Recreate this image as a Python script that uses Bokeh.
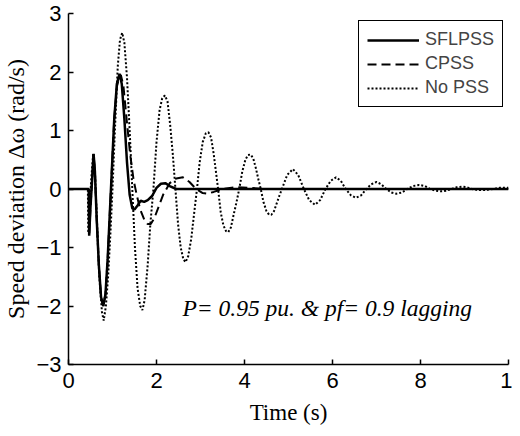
from bokeh.plotting import figure
from bokeh.models import Range1d, FixedTicker, Legend, LegendItem, Label
from bokeh.embed import file_html
from bokeh.resources import INLINE

# ---- data ----
t_sfl = [0, 0.46, 0.47, 0.5, 0.54, 0.57, 0.6, 0.64, 0.69, 0.74, 0.79, 0.84, 0.89, 0.94, 0.99,
         1.04, 1.1, 1.16, 1.21, 1.27, 1.33, 1.39, 1.45, 1.5, 1.57, 1.64, 1.72, 1.8, 1.9, 2.0,
         2.1, 2.2, 2.3, 2.45, 10]
y_sfl = [0, 0, -0.8, -0.3, 0.2, 0.6, 0.3, -0.5, -1.3, -1.85, -2.0, -1.8, -1.2, -0.4, 0.4,
         1.2, 1.8, 1.97, 1.8, 1.2, 0.45, -0.1, -0.33, -0.35, -0.28, -0.2, -0.22, -0.19, -0.12, 0.02,
         0.09, 0.1, 0.05, 0.0, 0]

t_cpss = [0, 0.46, 0.47, 0.5, 0.54, 0.57, 0.6, 0.64, 0.69, 0.74, 0.79, 0.84, 0.89, 0.94, 0.99,
          1.04, 1.1, 1.16, 1.19, 1.25, 1.32, 1.4, 1.48, 1.55, 1.63, 1.72, 1.8, 1.87, 1.95, 2.05,
          2.15, 2.3, 2.45, 2.6, 2.75, 2.9, 3.05, 3.15, 3.3, 3.5, 3.8, 4.1, 4.5, 10]
y_cpss = [0, 0, -0.8, -0.3, 0.2, 0.6, 0.3, -0.5, -1.3, -1.85, -2.0, -1.8, -1.2, -0.4, 0.4,
          1.2, 1.75, 1.93, 1.95, 1.75, 1.2, 0.6, 0.15, -0.1, -0.35, -0.52, -0.6, -0.6, -0.5, -0.3,
          -0.1, 0.1, 0.18, 0.2, 0.12, 0.0, -0.07, -0.08, -0.05, 0.0, 0.03, 0.02, 0.0, 0]

t_nopss = [0, 0.44, 0.45, 0.48, 0.52, 0.56, 0.6, 0.65, 0.7, 0.76, 0.8, 0.85, 0.9, 0.95, 1.0,
           1.06, 1.12, 1.17, 1.22, 1.27, 1.33, 1.39, 1.45, 1.51, 1.57, 1.63, 1.68, 1.73, 1.8, 1.86,
           1.93, 2.0, 2.07, 2.13, 2.19, 2.25, 2.31, 2.37, 2.43, 2.49, 2.55, 2.61, 2.66, 2.72, 2.79,
           2.85, 2.92, 2.98, 3.05, 3.12, 3.18, 3.24, 3.3, 3.35, 3.4, 3.46, 3.52, 3.58, 3.63, 3.69,
           3.75, 3.82, 3.88, 3.95, 4.02, 4.08, 4.14, 4.2, 4.26, 4.32, 4.37, 4.43, 4.5, 4.56, 4.61,
           4.67, 4.73, 4.79, 4.85, 4.97, 5.1, 5.22, 5.35, 5.47, 5.6, 5.72, 5.84, 5.96, 6.08, 6.19,
           6.3, 6.42, 6.53, 6.65, 6.77, 6.88, 7.0, 7.11, 7.22, 7.34, 7.45, 7.58, 7.7, 7.83, 7.97,
           8.1, 8.22, 8.35, 8.47, 8.58, 8.7, 8.82, 8.94, 9.05, 9.17, 9.28, 9.4, 9.52, 9.65, 9.8, 10]
y_nopss = [0, 0, -0.75, -0.3, 0.2, 0.6, 0.3, -0.6, -1.5, -2.1, -2.25, -2.0, -1.5, -0.8, 0.0,
           1.1, 2.1, 2.55, 2.67, 2.5, 1.9, 1.0, 0.0, -1.0, -1.7, -2.0, -2.07, -1.9, -1.3, -0.6,
           0.0, 0.8, 1.35, 1.55, 1.6, 1.5, 1.1, 0.6, 0.0, -0.6, -1.0, -1.2, -1.25, -1.15, -0.85,
           -0.45, 0.0, 0.45, 0.8, 0.95, 0.97, 0.88, 0.6, 0.3, 0.0, -0.4, -0.62, -0.72, -0.74, -0.66,
           -0.45, -0.22, 0.0, 0.3, 0.5, 0.58, 0.59, 0.52, 0.35, 0.15, 0.0, -0.22, -0.38, -0.44, -0.44,
           -0.38, -0.25, -0.12, 0.0, 0.24, 0.34, 0.24, 0.0, -0.19, -0.27, -0.19, 0.0, 0.14, 0.2, 0.14,
           0.0, -0.11, -0.15, -0.11, 0.0, 0.08, 0.12, 0.08, 0.0, -0.06, -0.08, -0.06, 0.0, 0.05, 0.07,
           0.05, 0.0, -0.03, -0.04, -0.03, 0.0, 0.03, 0.04, 0.03, 0.0, -0.015, -0.02, -0.015, 0.0, 0.02, 0.02]

x_ticks = [0, 2, 4, 6, 8, 10]
x_tick_labels = ["0", "2", "4", "6", "8", "1"]
y_ticks = [-3, -2, -1, 0, 1, 2, 3]
series_names = ["SFLPSS", "CPSS", "No PSS"]
note = "P= 0.95 pu. & pf= 0.9 lagging"

p = figure(width=512, height=428, x_range=Range1d(0, 10), y_range=Range1d(-3, 3),
           output_backend="svg", toolbar_location=None,
           min_border_left=64, min_border_right=4, min_border_top=13, min_border_bottom=64)
p.outline_line_color = None
p.grid.visible = False
p.background_fill_color = "white"

r_no = p.line(t_nopss, y_nopss, line_color="black", line_width=2, line_dash="2 2")
r_cp = p.line(t_cpss, y_cpss, line_color="black", line_width=2, line_dash="9 5")
r_sf = p.line(t_sfl, y_sfl, line_color="black", line_width=2.5)

for ax in (p.xaxis[0], p.yaxis[0]):
    ax.major_tick_in = 5
    ax.major_tick_out = 0
    ax.minor_tick_line_color = None
    ax.axis_line_color = "black"
    ax.axis_line_width = 1.5
    ax.major_tick_line_width = 1.5
    ax.major_label_text_font = "Liberation Sans"
    ax.major_label_text_font_size = "22px"
    ax.major_label_text_color = "black"
    ax.axis_label_text_font = "Liberation Serif"
    ax.axis_label_text_font_style = "normal"
    ax.axis_label_text_color = "black"

p.xaxis.ticker = FixedTicker(ticks=x_ticks)
p.xaxis.major_label_overrides = {k: v for k, v in zip(x_ticks, x_tick_labels)}
p.yaxis.ticker = FixedTicker(ticks=y_ticks)
p.xaxis.axis_label = "Time (s)"
p.yaxis.axis_label = "Speed deviation Δω (rad/s)"
p.xaxis.axis_label_text_font_size = "23px"
p.yaxis.axis_label_text_font_size = "24px"
p.xaxis.major_label_standoff = 8
p.yaxis.major_label_standoff = 7
p.xaxis.axis_label_standoff = 9
p.yaxis.axis_label_standoff = 4

legend = Legend(items=[LegendItem(label=series_names[0], renderers=[r_sf]),
                       LegendItem(label=series_names[1], renderers=[r_cp]),
                       LegendItem(label=series_names[2], renderers=[r_no])],
                location=(290, 257), margin=0, padding=8, spacing=3,
                glyph_width=52, glyph_height=20, label_height=20, label_standoff=6,
                label_text_font="Liberation Sans", label_text_font_size="18px",
                border_line_color="black", border_line_width=1.5, border_line_alpha=1,
                background_fill_color="white", background_fill_alpha=1)
p.add_layout(legend)

p.add_layout(Label(x=2.59, y=-2.03, text=note, text_font="Liberation Serif",
                   text_font_style="italic", text_font_size="23.5px", text_baseline="middle",
                   text_color="black"))

open("out.html", "w").write(file_html(p, INLINE))
